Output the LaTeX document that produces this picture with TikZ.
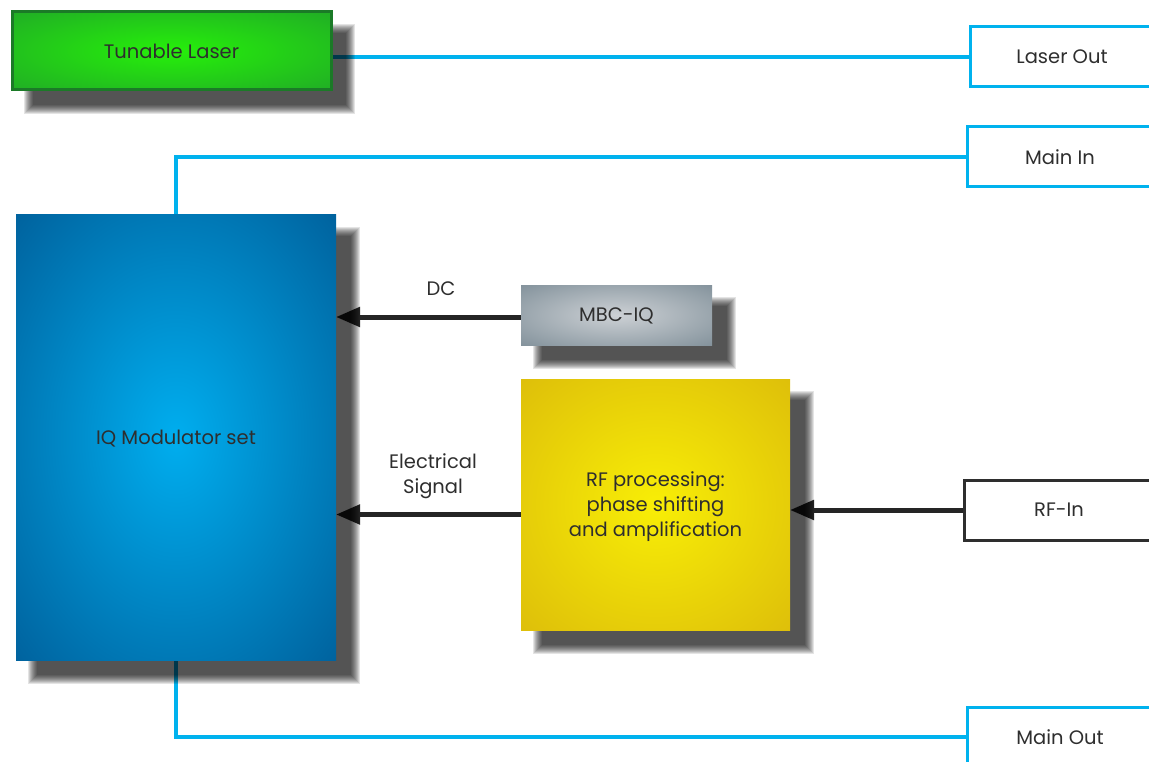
\documentclass[tikz,border=0pt]{standalone}
\usepackage{fontspec}
\setmainfont{Poppins}
\usetikzlibrary{arrows.meta,calc}
\pgfdeclarelayer{bg}
\pgfdeclarelayer{shad}
\pgfsetlayers{bg,shad,main}

\definecolor{cyanl}{HTML}{00B2EE}
\definecolor{txt}{HTML}{2E2E2E}
\definecolor{gC}{HTML}{26F00A}
\definecolor{gE}{HTML}{1F9A2D}
\definecolor{gB}{HTML}{1B7A27}
\definecolor{bC}{HTML}{00AEEF}
\definecolor{bE}{HTML}{004C86}
\definecolor{sC}{HTML}{CDD1D5}
\definecolor{sE}{HTML}{6E808B}
\definecolor{yC}{HTML}{F8EE06}
\definecolor{yE}{HTML}{D6B10B}
\definecolor{shadowc}{HTML}{000000}

\pgfdeclareradialshading{greenglow}{\pgfpoint{0bp}{0bp}}{color(0bp)=(gC); color(46bp)=(gE); color(50bp)=(gE)}
\pgfdeclareradialshading{blueglow}{\pgfpoint{0bp}{0bp}}{color(0bp)=(bC); color(46bp)=(bE); color(50bp)=(bE)}
\pgfdeclareradialshading{grayglow}{\pgfpoint{0bp}{0bp}}{color(0bp)=(sC); color(46bp)=(sE); color(50bp)=(sE)}
\pgfdeclareradialshading{yellowglow}{\pgfpoint{0bp}{0bp}}{color(0bp)=(yC); color(46bp)=(yE); color(50bp)=(yE)}

\newcommand\nshadow[1]{%
  \foreach \i in {0,...,9}{%
    \fill[shadowc,opacity=0.105] ([shift={(12+\i,12+\i)}]#1.north west) rectangle ([shift={(24-\i,24-\i)}]#1.south east);}}

\begin{document}
\begin{tikzpicture}[x=1pt,y=-1pt,
  every node/.style={font=\fontsize{19.5}{25}\selectfont, text=txt, inner sep=0pt, outer sep=0pt, text depth=0pt},
  block/.style={rectangle, align=center},
  lasbox/.style={block, shading=greenglow, draw=gB, line width=3pt},
  iqbox/.style={block, shading=blueglow},
  mbcbox/.style={block, shading=grayglow},
  rfbox/.style={block, shading=yellowglow},
  port/.style={rectangle, fill=white, draw=cyanl, line width=3pt, minimum height=60pt},
  rfport/.style={rectangle, fill=white, draw=txt, line width=3pt, minimum height=60pt},
  cyanline/.style={draw=cyanl, line width=4.5pt},
  arr/.style={draw=txt!80!black, line width=5pt, -{Triangle[length=24pt,width=19pt]}},
  lbl/.style={align=center}
]
\useasboundingbox (0,0) rectangle (1149,762);

% blocks
\node[lasbox, minimum width=319pt, minimum height=78pt] (laser) at (171.5,51) {Tunable Laser};
\node[iqbox, minimum width=320pt, minimum height=445pt] (iq) at (176,437.5) {IQ Modulator set};
\node[mbcbox, minimum width=191pt, minimum height=60pt] (mbc) at (616.5,315) {MBC-IQ};
\node[rfbox, minimum width=269pt, minimum height=251pt] (rf) at (655.5,504.5) {RF processing:\\phase shifting\\and amplification};

% ports
\node[port, minimum width=184pt] (lout) at (1062,57) {Laser Out};
\node[port, minimum width=186pt] (min) at (1060,157) {Main In};
\node[rfport, minimum width=190pt] (rfin) at (1059,510) {RF-In};
\node[port, minimum width=186pt] (mout) at (1060,737) {Main Out};

% labels
\node[lbl] (dc) at (441,289) {DC};
\node[lbl] (es) at (433,474) {Electrical\\Signal};

% shadows
\begin{pgfonlayer}{shad}
  \nshadow{laser}
  \nshadow{iq}
  \nshadow{mbc}
  \nshadow{rf}
\end{pgfonlayer}

% connectors
\begin{pgfonlayer}{bg}
  \draw[cyanline] (laser.east |- lout.west) -- (lout.west);
  \draw[cyanline] (iq.north) |- (min.west);
  \draw[cyanline] (iq.south) |- (mout.west);
  \draw[arr] ([yshift=-2pt]mbc.west) -- ([yshift=-2pt]mbc.west -| iq.east);
  \draw[arr] ([yshift=-10pt]rf.west) -- ([yshift=-10pt]rf.west -| iq.east);
  \draw[arr] (rfin.west) -- (rfin.west -| rf.east);
\end{pgfonlayer}
\end{tikzpicture}
\end{document}
